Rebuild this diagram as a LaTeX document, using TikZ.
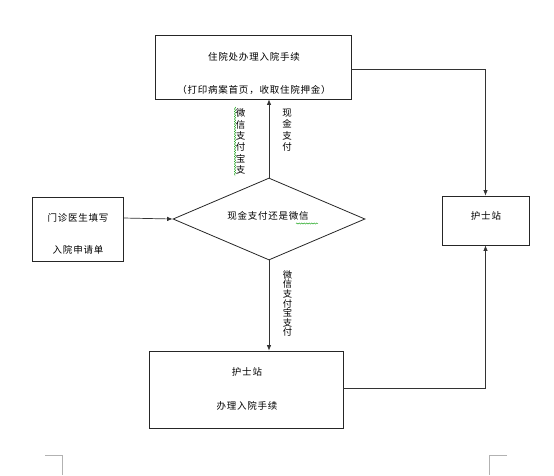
\documentclass[tikz,border=0pt]{standalone}
\usepackage{fontspec}
\setmainfont[LetterSpace=8]{Noto Sans CJK SC}
\usetikzlibrary{shapes.geometric,arrows.meta,decorations.pathmorphing}
\begin{document}
\begin{tikzpicture}[x=1pt,y=-1pt,
  box/.style={draw=black!85,line width=0.8pt,inner sep=0pt},
  lbl/.style={font=\fontsize{9.5}{11}\selectfont,text=black},
  vlbl/.style={font=\fontsize{9.5}{11.3}\selectfont,align=center,inner sep=0pt,text=black},
  conn/.style={draw=black!80,line width=0.7pt},
  arr/.style={conn,-{Latex[length=5.5pt,width=4.5pt]}},
  squig/.style={draw=green!60!black,line width=0.4pt,decorate,decoration={snake,amplitude=0.6pt,segment length=2.5pt}},
  corner/.style={draw=black!30,line width=0.8pt}]
\useasboundingbox (0,0) rectangle (554,475);
% boxes
\node[box,minimum width=196pt,minimum height=64pt] (top) at (253,67) {};
\node[lbl] (t1) at (254,57) {住院处办理入院手续};
\node[lbl] (t2) at (254,90) {（打印病案首页，收取住院押金）};
\node[box,minimum width=91pt,minimum height=64pt] (lbox) at (77.5,229) {};
\node[lbl] (l1) at (78,218) {门诊医生填写};
\node[lbl] (l2) at (78,250) {入院申请单};
\node[box,draw,shape=diamond,minimum width=192pt,minimum height=82pt,aspect=2.34] (dia) at (269,219) {};
\node[lbl] (dt) at (268,216) {现金支付还是微信};
\node[box,minimum width=87pt,minimum height=49pt] (rbox) at (485.5,220.5) {};
\node[lbl] (r1) at (486,216) {护士站};
\node[box,minimum width=194pt,minimum height=77pt] (bbox) at (246,389.5) {};
\node[lbl] (b1) at (247,372) {护士站};
\node[lbl] (b2) at (247,406) {办理入院手续};
% vertical labels
\node[vlbl] (v1) at (240.5,141.5) {微\\信\\支\\付\\宝\\支};
\node[vlbl] (v2) at (287,130) {现\\金\\支\\付};
\node[vlbl,font=\fontsize{9.3}{9.6}\selectfont] (v3) at (287.5,303.5) {微\\信\\支\\付\\宝\\支\\付};
% spell-check squiggles
\coordinate (s1) at (235,107);
\coordinate (s2) at (235,176);
\draw[squig] (s1) -- (s2);
\coordinate (s3) at (296,223.5);
\coordinate (s4) at (318,223.5);
\draw[squig] (s3) -- (s4);
% connectors
\draw[arr] ([yshift=11pt]lbox.east) -- (dia.west);
\draw[arr] (dia.north) -- (dia.north |- top.south);
\draw[arr] (dia.south) -- (dia.south |- bbox.north);
\draw[arr] ([yshift=-2pt]top.east) -| (rbox.north);
\draw[arr] ([yshift=1.5pt]bbox.east) -| (rbox.south);
% corner marks
\coordinate (c1) at (45,455);
\coordinate (c2) at (62,455);
\coordinate (c3) at (62,475);
\draw[corner] (c1) -- (c2) -- (c3);
\coordinate (c4) at (507,455);
\coordinate (c5) at (489,455);
\coordinate (c6) at (489,475);
\draw[corner] (c4) -- (c5) -- (c6);
\end{tikzpicture}
\end{document}
